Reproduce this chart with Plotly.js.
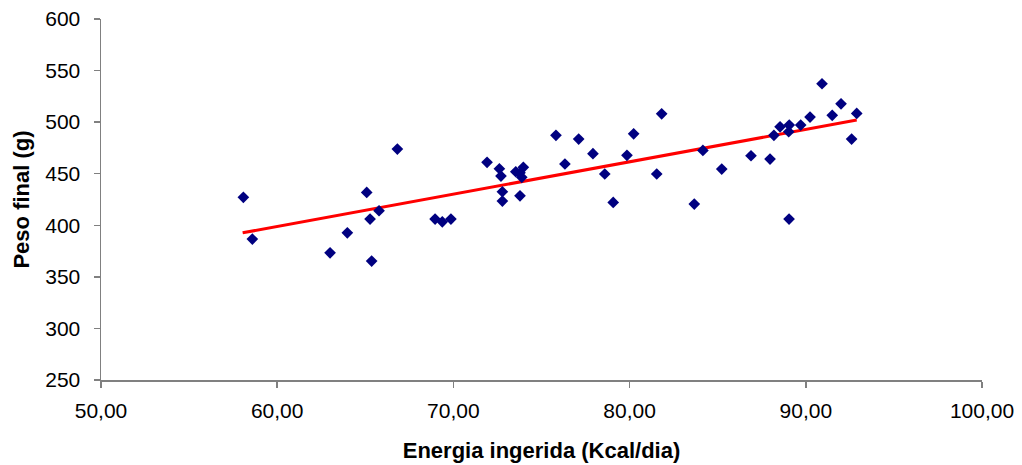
<!DOCTYPE html>
<html>
<head>
<meta charset="utf-8">
<script src="https://cdn.plot.ly/plotly-3.0.1.min.js"></script>
<style>html,body{margin:0;padding:0;background:#fff;}#chart{width:1022px;height:465px;}</style>
</head>
<body>
<div id="chart"></div>
<script>
var energia = [58.08, 58.59, 63.00, 63.98, 65.08, 65.27, 65.36, 65.78, 66.82, 68.96,
  69.37, 69.86, 71.91, 72.61, 72.70, 72.78, 72.78, 73.54, 73.78, 73.97,
  73.88, 73.78, 75.82, 76.33, 77.11, 77.92, 78.59, 79.07, 79.85, 80.23,
  81.54, 81.82, 83.67, 84.16, 85.23, 86.89, 87.97, 88.19, 88.54, 89.06,
  89.03, 89.71, 90.24, 90.92, 91.50, 92.00, 92.89, 92.60, 89.05];
var peso = [427.1, 386.6, 373.3, 392.7, 431.9, 406.0, 365.3, 414.1, 473.9, 406.0,
  403.4, 406.0, 461.0, 454.8, 447.7, 432.5, 423.5, 451.9, 450.9, 456.2,
  446.5, 428.6, 487.2, 459.4, 483.6, 469.4, 449.7, 422.2, 467.8, 488.7,
  449.7, 508.1, 420.6, 472.6, 454.5, 467.4, 464.2, 487.2, 495.5, 497.2,
  490.7, 497.2, 504.9, 537.2, 506.6, 517.8, 508.5, 483.6, 406.0];
var trendX = [58.04, 92.89];
var trendY = [392.7, 502.0];
var xTitle = 'Energia ingerida (Kcal/dia)';
var yTitle = 'Peso final (g)';

var traces = [
  {x: trendX, y: trendY, type: 'scatter', mode: 'lines',
   line: {color: '#ff0000', width: 3}, hoverinfo: 'skip'},
  {x: energia, y: peso, type: 'scatter', mode: 'markers',
   marker: {symbol: 'diamond', size: 9, color: '#000080'}}
];
var fam = 'Liberation Sans, Arial, sans-serif';
var axisFont = {family: fam, size: 21, color: '#000'};
var titleFont = {family: fam, size: 22, color: '#000', weight: 'bold'};
var layout = {
  width: 1022, height: 465,
  margin: {l: 101, r: 40, t: 19, b: 85},
  paper_bgcolor: '#fff', plot_bgcolor: '#fff',
  showlegend: false,
  separators: ',.',
  xaxis: {
    range: [50, 100], dtick: 10, tick0: 50, tickformat: '.2f',
    showgrid: false, zeroline: false,
    showline: true, linecolor: '#808080', linewidth: 1.5,
    ticks: 'outside', ticklen: 6, tickcolor: '#808080', tickwidth: 1.5,
    tickfont: axisFont, ticklabelstandoff: 5,
    title: {text: xTitle, font: titleFont, standoff: 22}
  },
  yaxis: {
    range: [250, 600], dtick: 50, tick0: 250,
    showgrid: false, zeroline: false,
    showline: true, linecolor: '#808080', linewidth: 1.5,
    ticks: 'outside', ticklen: 6, tickcolor: '#808080', tickwidth: 1.5,
    tickfont: axisFont, ticklabelstandoff: 9,
    title: {text: yTitle, font: titleFont, standoff: 9}
  }
};
Plotly.newPlot('chart', traces, layout, {displayModeBar: false, staticPlot: true});
</script>
</body>
</html>
